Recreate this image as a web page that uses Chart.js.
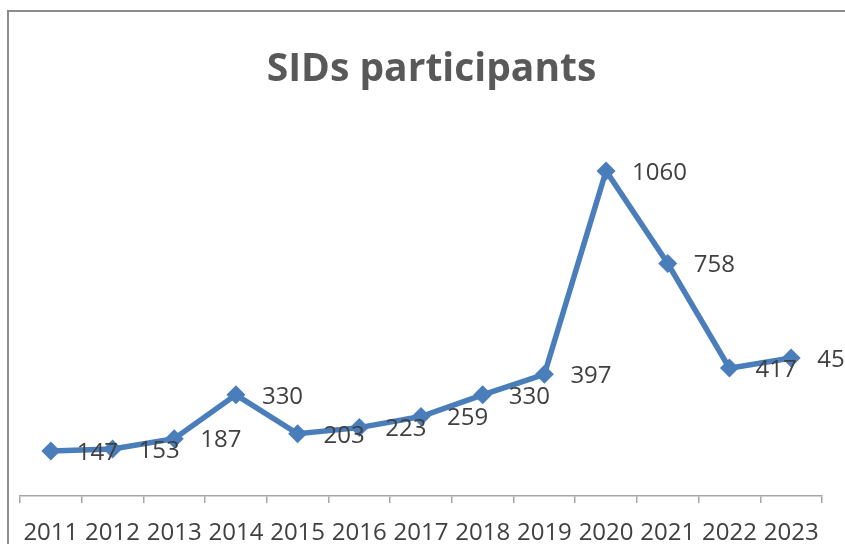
<!DOCTYPE html>
<html>
<head>
<meta charset="utf-8">
<script src="https://cdn.jsdelivr.net/npm/chart.js@4"></script>
<style>
  html, body { margin: 0; padding: 0; background: #fff; overflow: hidden; }
  #frame {
    position: absolute; left: 7px; top: 10px; width: 900px; height: 600px;
    border-left: 2px solid #8c8c8c; border-top: 2px solid #8c8c8c;
  }
  #chart { position: absolute; left: 0; top: 0; }
</style>
</head>
<body>
<div id="frame"></div>
<canvas id="chart" width="845" height="544"></canvas>
<script>
// data
const years = ["2011", "2012", "2013", "2014", "2015", "2016", "2017",
  "2018", "2019", "2020", "2021", "2022", "2023"];
const participants = [147, 153, 187, 330, 203, 223, 259, 330, 397, 1060, 758, 417, 450];

const blue = "#4a7ebb";
const grey = "#a6a6a6";
const textCol = "#404040";

// value labels to the right of each point
const valueLabels = {
  id: "valueLabels",
  afterDatasetsDraw(chart) {
    const ctx = chart.ctx;
    const meta = chart.getDatasetMeta(0);
    ctx.save();
    ctx.font = "24px 'Open Sans'";
    ctx.fillStyle = textCol;
    ctx.textAlign = "left";
    ctx.textBaseline = "middle";
    meta.data.forEach((pt, i) => {
      ctx.fillText(String(participants[i]), pt.x + 26, pt.y + 2);
    });
    ctx.restore();
  },
};

new Chart(document.getElementById("chart").getContext("2d"), {
  type: "line",
  data: {
    labels: years,
    datasets: [{
      label: "SIDs participants",
      data: participants,
      borderColor: blue,
      backgroundColor: blue,
      borderWidth: 5.5,
      tension: 0,
      pointStyle: "rectRot",
      pointRadius: 9.5,
      pointBackgroundColor: blue,
      pointBorderColor: blue,
      pointBorderWidth: 0,
    }],
  },
  options: {
    responsive: false,
    animation: false,
    devicePixelRatio: 1,
    layout: { padding: { left: 20, right: 2, top: 0, bottom: 0 } },
    plugins: {
      legend: { display: false },
      tooltip: { enabled: false },
      title: {
        display: true,
        text: "SIDs participants",
        color: "#595959",
        font: { family: "'Open Sans'", size: 39, weight: "bold" },
        padding: { top: 46, bottom: 35.2 },
      },
    },
    scales: {
      x: {
        offset: true,
        grid: {
          offset: true,
          drawOnChartArea: false,
          drawTicks: true,
          tickLength: 7,
          color: grey,
          lineWidth: 1.5,
        },
        border: { color: grey, width: 1.5 },
        ticks: {
          padding: 16,
          color: textCol,
          font: { family: "'Open Sans'", size: 24 },
          maxRotation: 0,
          autoSkip: false,
        },
        afterFit: (s) => { s.height = 48; },
      },
      y: {
        position: "right",
        min: 0,
        max: 1200,
        grid: { display: false },
        border: { display: false },
        ticks: { display: false },
        afterFit: (s) => { s.width = 21; },
      },
    },
  },
  plugins: [valueLabels],
});
</script>
</body>
</html>
